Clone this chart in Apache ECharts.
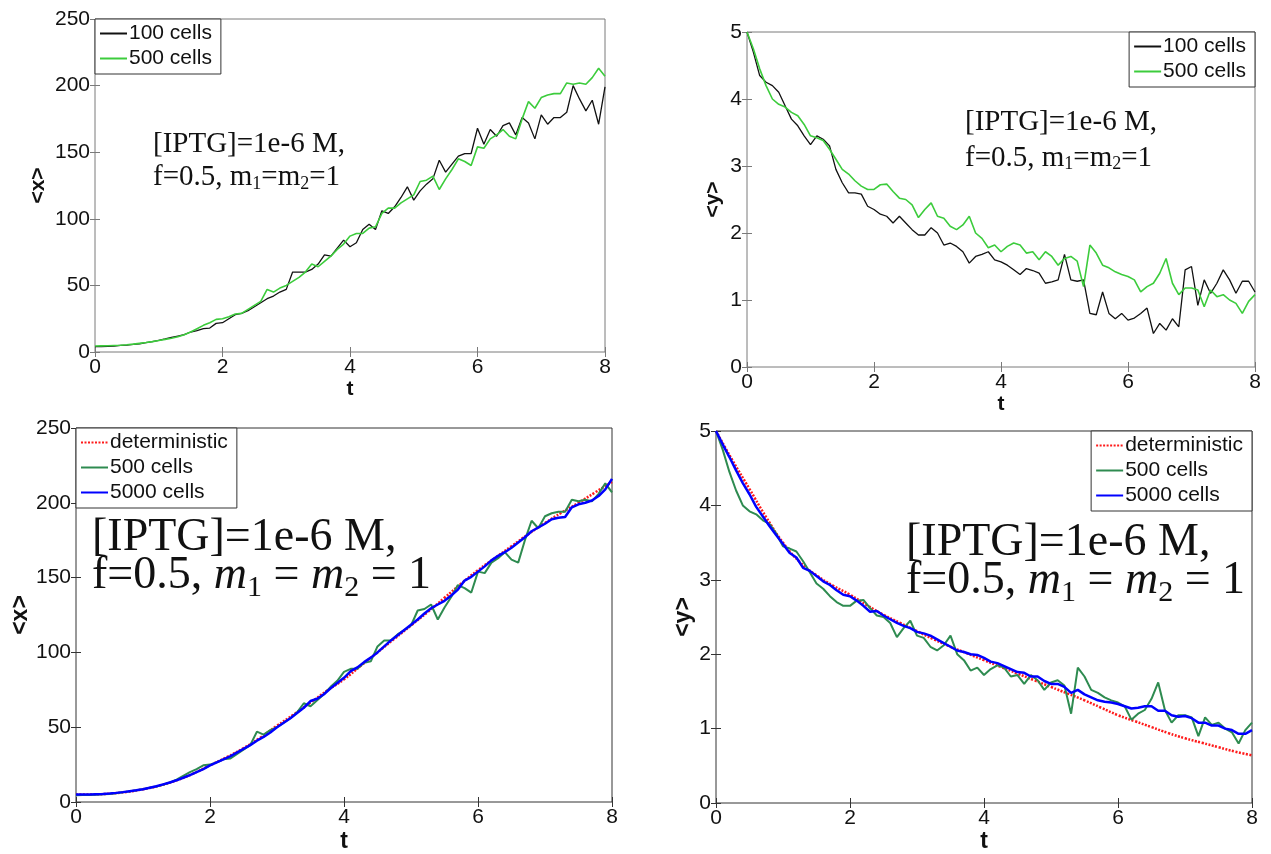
<!DOCTYPE html>
<html>
<head>
<meta charset="utf-8">
<script src="https://cdn.jsdelivr.net/npm/echarts@6/dist/echarts.min.js"></script>
<style>
  html, body { margin: 0; padding: 0; background: #fff; }
  #chart { width: 1271px; height: 854px; }
</style>
</head>
<body>
<div id="chart"></div>
<script>
// Mean protein levels <x>, <y> vs time t — stochastic runs vs deterministic.

// ---------------------------------------------------------------------------
// Data
// ---------------------------------------------------------------------------
// time grid for the stochastic runs (dt = 0.1)
const T = [
  0, 0.1, 0.2, 0.3, 0.4, 0.5, 0.6, 0.7, 0.8, 0.9,
  1, 1.1, 1.2, 1.3, 1.4, 1.5, 1.6, 1.7, 1.8, 1.9,
  2, 2.1, 2.2, 2.3, 2.4, 2.5, 2.6, 2.7, 2.8, 2.9,
  3, 3.1, 3.2, 3.3, 3.4, 3.5, 3.6, 3.7, 3.8, 3.9,
  4, 4.1, 4.2, 4.3, 4.4, 4.5, 4.6, 4.7, 4.8, 4.9,
  5, 5.1, 5.2, 5.3, 5.4, 5.5, 5.6, 5.7, 5.8, 5.9,
  6, 6.1, 6.2, 6.3, 6.4, 6.5, 6.6, 6.7, 6.8, 6.9,
  7, 7.1, 7.2, 7.3, 7.4, 7.5, 7.6, 7.7, 7.8, 7.9,
  8,
];
// time grid for the deterministic solution
const T_DET = [
  0, 0.25, 0.5, 0.75, 1, 1.25, 1.5, 1.75, 2, 2.25, 2.5, 2.75, 3, 3.25, 3.5, 3.75,
  4, 4.25, 4.5, 4.75, 5, 5.25, 5.5, 5.75, 6, 6.25, 6.5, 6.75, 7, 7.25, 7.5, 7.75, 8,
];

// <x>
const X_100 = [
  4, 4, 4.2, 4.5, 4.9, 5.2, 5.8, 6.2, 7, 7.8,
  8.8, 9.8, 11, 12, 13, 15, 16, 17.5, 18, 21.5,
  22, 25, 28, 29, 31, 34, 37, 40, 42, 45,
  47, 60, 60, 60, 62, 66, 73, 72, 78, 84,
  79, 82, 92, 96, 92, 106, 104, 109, 116, 124,
  114, 121, 126, 130, 144, 135, 141, 147, 149, 149,
  168, 156, 167, 162, 170, 172, 163, 176, 172, 160,
  178, 171, 176, 176, 180, 200, 190, 181, 189, 171,
  199,
];
const X_500 = [
  4.5, 4.6, 4.7, 4.9, 5.1, 5.4, 5.9, 6.5, 7.1, 7.8,
  8.6, 9.5, 10.3, 11.5, 13, 15, 17.5, 20, 22, 24.5,
  25, 26.5, 28.5, 29, 32, 35, 38, 47, 45, 48,
  50, 53, 56, 60, 66, 64, 68, 72, 77, 81,
  87, 89, 89, 93, 94, 104, 108, 108, 112, 115,
  118, 128, 129, 132, 122, 130, 137, 145, 143, 140,
  154, 153, 160, 163, 167, 162, 160, 175, 188, 183,
  191, 193, 194, 194, 202, 201, 202, 201, 206, 213,
  207,
];
const X_5000 = [
  5, 5, 5, 5.2, 5.4, 5.7, 6.1, 6.6, 7.2, 7.8,
  8.5, 9.5, 10.5, 11.8, 13, 14.5, 16.2, 18, 20, 22,
  24.5, 26.5, 28.5, 30.5, 33, 35.5, 38, 41, 43.5, 46.5,
  50, 53, 56, 59.5, 63, 67.5, 69, 72, 76, 79.5,
  83, 87.5, 90, 93.5, 96.5, 100, 104, 108, 111.5, 115,
  118.5, 122, 126, 129.5, 132, 134.5, 138, 142, 148, 150.5,
  154, 157.5, 161.5, 164.5, 167, 170, 173.5, 177, 181, 183.5,
  186, 189, 190, 190.5, 197, 199, 200, 201.5, 204.5, 209,
  216,
];
const X_DET = [
  5, 5.1, 5.6, 6.7, 8.5, 11, 14.5, 19, 24.5, 30, 36, 43, 51, 58.5, 66.5, 74.5,
  82, 91, 100, 109, 118, 127, 136.5, 146, 155, 163, 171, 179, 186.5, 193.5, 200, 207, 214,
];

// <y>
const Y_100 = [
  5, 4.7, 4.35, 4.25, 4.2, 4.1, 3.9, 3.7, 3.6, 3.45,
  3.32, 3.45, 3.4, 3.3, 2.95, 2.75, 2.6, 2.6, 2.58, 2.4,
  2.35, 2.28, 2.25, 2.15, 2.25, 2.15, 2.05, 1.97, 1.97, 2.08,
  2.0, 1.82, 1.85, 1.8, 1.72, 1.55, 1.65, 1.68, 1.72, 1.6,
  1.57, 1.52, 1.45, 1.38, 1.47, 1.44, 1.4, 1.25, 1.27, 1.3,
  1.68, 1.3, 1.28, 1.3, 0.8, 0.78, 1.12, 0.8, 0.72, 0.8,
  0.7, 0.73, 0.8, 0.88, 0.5, 0.65, 0.55, 0.72, 0.6, 1.45,
  1.5, 0.92, 1.3, 1.1, 1.25, 1.45, 1.3, 1.1, 1.28, 1.28,
  1.12,
];
const Y_500 = [
  5, 4.75, 4.45, 4.2, 4.0, 3.92, 3.88, 3.8, 3.75, 3.62,
  3.45, 3.42, 3.38, 3.25, 3.1, 2.95, 2.88, 2.78, 2.7, 2.65,
  2.65, 2.72, 2.73, 2.62, 2.52, 2.5, 2.42, 2.23, 2.35, 2.45,
  2.25, 2.22, 2.1, 2.05, 2.12, 2.25, 2.0, 1.92, 1.78, 1.82,
  1.72, 1.8, 1.85, 1.82, 1.7, 1.72, 1.6, 1.72, 1.65, 1.52,
  1.62, 1.65, 1.58, 1.2, 1.82, 1.7, 1.52, 1.48, 1.42, 1.38,
  1.35, 1.3, 1.12, 1.2, 1.25, 1.4, 1.62, 1.25, 1.08, 1.18,
  1.18, 1.15, 0.9, 1.15, 1.05, 1.08, 1.0, 0.95, 0.8, 0.98,
  1.08,
];
const Y_5000 = [
  5, 4.82, 4.65, 4.47, 4.3, 4.15, 3.98, 3.85, 3.72, 3.6,
  3.48, 3.36, 3.3, 3.16, 3.12, 3.05, 2.98, 2.93, 2.86, 2.8,
  2.78, 2.72, 2.65, 2.57, 2.58, 2.52, 2.47, 2.42, 2.38, 2.35,
  2.3, 2.28, 2.25, 2.2, 2.15, 2.1, 2.05, 2.03, 2.0, 1.99,
  1.95, 1.9, 1.88, 1.84, 1.8, 1.76, 1.75, 1.7, 1.7, 1.64,
  1.6, 1.6, 1.56, 1.48, 1.52, 1.46, 1.42, 1.38, 1.36, 1.35,
  1.33, 1.3, 1.27, 1.28, 1.3, 1.3, 1.24, 1.24, 1.18, 1.16,
  1.17, 1.14, 1.08, 1.08, 1.04, 1.04, 1.0, 0.98, 0.93, 0.93,
  0.98,
];
const Y_DET = [
  5, 4.6, 4.22, 3.84, 3.5, 3.24, 3.06, 2.92, 2.8, 2.66, 2.53, 2.42, 2.31, 2.2, 2.1, 2.01,
  1.92, 1.83, 1.74, 1.65, 1.56, 1.47, 1.38, 1.28, 1.18, 1.1, 1.02, 0.94, 0.87, 0.81, 0.75, 0.69, 0.64,
];

const LABELS = {
  a100: "100 cells", a500: "500 cells",
  b100: "100 cells", b500: "500 cells",
  cdet: "deterministic", c500: "500 cells", c5000: "5000 cells",
  ddet: "deterministic", d500: "500 cells", d5000: "5000 cells",
};

// ---------------------------------------------------------------------------
// Styling
// ---------------------------------------------------------------------------
const SANS = '"Liberation Sans", Arial, sans-serif';
const SERIF = '"Liberation Serif", "Times New Roman", serif';

const LIME = "#3ccc3c";
const SEA = "#2e8b50";
const BLUE = "#0000ff";
const RED = "#ff1a1a";

const PANELS = [
  { grid: { left: 95, top: 19, width: 510, height: 333 }, yMax: 250, yStep: 50, yName: "<x>",
    frame: "#7a7a7a", yGap: 46, xGap: 26, nameSize: 21 },
  { grid: { left: 747, top: 32, width: 508, height: 335 }, yMax: 5, yStep: 1, yName: "<y>",
    frame: "#7a7a7a", yGap: 23, xGap: 25, nameSize: 21 },
  { grid: { left: 76, top: 428, width: 536, height: 375 }, yMax: 250, yStep: 50, yName: "<x>",
    frame: "#333", yGap: 44, xGap: 28, nameSize: 23 },
  { grid: { left: 716, top: 431, width: 536, height: 376 }, yMax: 5, yStep: 1, yName: "<y>",
    frame: "#333", yGap: 17, xGap: 27, nameSize: 23 },
];

function pairs(xs, ys) {
  return ys.map((v, i) => [xs[i], v]);
}

function line(name, idx, xs, ys, color, width, type, z) {
  return {
    type: "line", name, xAxisIndex: idx, yAxisIndex: idx,
    data: pairs(xs, ys),
    symbol: "none", showSymbol: false, silent: true, z,
    lineStyle: { color, width, type: type || "solid" },
    itemStyle: { color },
  };
}

const grid = PANELS.map((p) => ({
  ...p.grid, show: true, borderColor: p.frame, borderWidth: 1, backgroundColor: "transparent",
}));

const nameStyle = (p) => ({ fontSize: p.nameSize, fontWeight: "bold", fontFamily: SANS, color: "#111" });
const tickStyle = (p) => ({ inside: true, length: 5, lineStyle: { color: p.frame, width: 1 } });

const xAxis = [];
const yAxis = [];
PANELS.forEach((p, i) => {
  xAxis.push({
    gridIndex: i, type: "value", min: 0, max: 8, interval: 2, position: "bottom",
    axisLine: { show: false }, axisTick: tickStyle(p), splitLine: { show: false },
    axisLabel: { color: "#111", fontSize: 21, fontFamily: SANS, margin: 5 },
    name: "t", nameLocation: "middle", nameGap: p.xGap, nameTextStyle: nameStyle(p),
  });
  yAxis.push({
    gridIndex: i, type: "value", min: 0, max: p.yMax, interval: p.yStep, position: "left",
    axisLine: { show: false }, axisTick: tickStyle(p), splitLine: { show: false },
    axisLabel: { color: "#111", fontSize: 21, fontFamily: SANS, margin: 5 },
    name: p.yName, nameLocation: "middle", nameGap: p.yGap, nameTextStyle: nameStyle(p),
  });
});
// mirrored tick marks on the top / right edges (box style)
PANELS.forEach((p, i) => {
  xAxis.push({
    gridIndex: i, type: "value", min: 0, max: 8, interval: 2, position: "top",
    axisLine: { show: false }, axisTick: tickStyle(p), axisLabel: { show: false }, splitLine: { show: false },
  });
  yAxis.push({
    gridIndex: i, type: "value", min: 0, max: p.yMax, interval: p.yStep, position: "right",
    axisLine: { show: false }, axisTick: tickStyle(p), axisLabel: { show: false }, splitLine: { show: false },
  });
});

const series = [
  line("a100", 0, T, X_100, "#111", 1.3),
  line("a500", 0, T, X_500, LIME, 1.6),
  line("b100", 1, T, Y_100, "#111", 1.3),
  line("b500", 1, T, Y_500, LIME, 1.6),
  line("cdet", 2, T_DET, X_DET, RED, 2.5, [2, 1.5], 2),
  line("c500", 2, T, X_500, SEA, 2, "solid", 3),
  line("c5000", 2, T, X_5000, BLUE, 2.5, "solid", 4),
  line("ddet", 3, T_DET, Y_DET, RED, 2.5, [2, 1.5], 2),
  line("d500", 3, T, Y_500, SEA, 2, "solid", 3),
  line("d5000", 3, T, Y_5000, BLUE, 2.5, "solid", 4),
];
series.forEach((s) => { if (s.name.endsWith("det")) s.smooth = true; });

function legendBox(names, pos) {
  return {
    data: names, orient: "vertical", ...pos, selectedMode: false,
    padding: [4, 9, 5, 4], itemGap: 4, itemWidth: 27, itemHeight: 16,
    itemStyle: { opacity: 0 },           // line only, no marker dot
    formatter: (n) => LABELS[n],
    textStyle: { fontSize: 21, fontFamily: SANS, color: "#111", padding: [0, 0, 0, -3] },
    borderColor: "#333", borderWidth: 1, borderRadius: 0, backgroundColor: "#fff",
  };
}

const legend = [
  legendBox(["a100", "a500"], { left: 95, top: 19 }),
  legendBox(["b100", "b500"], { right: 16, top: 32 }),
  legendBox(["cdet", "c500", "c5000"], { left: 76, top: 428 }),
  legendBox(["ddet", "d500", "d5000"], { right: 19, top: 431 }),
];

// parameter annotations (subscripts pushed down with top padding)
function smallNote(left, top, lh) {
  return {
    type: "text", left, top, z: 10, silent: true,
    style: {
      text: "[IPTG]=1e-6 M,\nf=0.5, m{s|1}=m{s|2}=1",
      fontSize: 29, fontFamily: SERIF, fill: "#111", lineHeight: lh,
      rich: { s: { fontSize: 18, fontFamily: SERIF, fill: "#111", lineHeight: lh, padding: [13, 0, 0, 0] } },
    },
  };
}
function texNote(left, top) {
  return {
    type: "text", left, top, z: 10, silent: true,
    style: {
      text: "[IPTG]=1e-6 M,\nf=0.5, {i|m}{s|1} = {i|m}{s|2} = 1",
      fontSize: 46, fontFamily: SERIF, fill: "#111", lineHeight: 38,
      rich: {
        i: { fontSize: 46, fontFamily: SERIF, fontStyle: "italic", fill: "#111", lineHeight: 38 },
        s: { fontSize: 30, fontFamily: SERIF, fill: "#111", lineHeight: 38, padding: [24, 0, 0, 0] },
      },
    },
  };
}

const option = {
  backgroundColor: "#fff",
  animation: false,
  grid, xAxis, yAxis, series, legend,
  graphic: [
    smallNote(153, 128, 33),
    smallNote(965, 104, 36),
    texNote(92, 515),
    texNote(906, 520),
  ],
};

const chart = echarts.init(document.getElementById("chart"), null, { renderer: "canvas" });
chart.setOption(option);
</script>
</body>
</html>
